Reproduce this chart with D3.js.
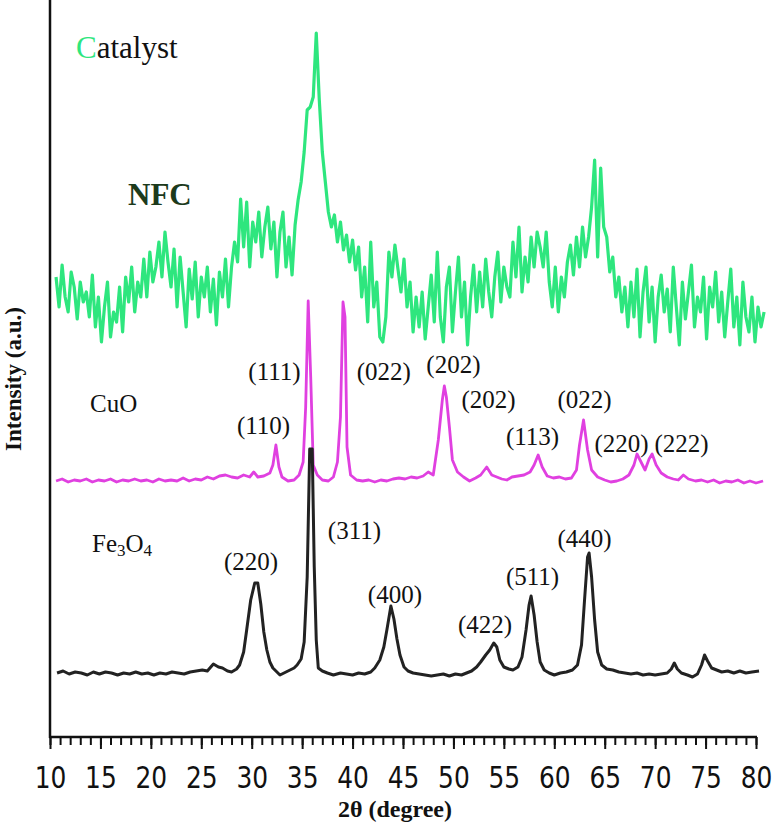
<!DOCTYPE html>
<html>
<head>
<meta charset="utf-8">
<script src="https://cdn.jsdelivr.net/npm/d3@7"></script>
<style>
  html, body { margin: 0; padding: 0; background: #fff; }
  svg { display: block; }
</style>
</head>
<body>
<svg id="chart" width="774" height="824"></svg>
<script>
// ---------------- DATA ----------------
const xTickMajor = [10, 15, 20, 25, 30, 35, 40, 45, 50, 55, 60, 65, 70, 75, 80];
const xTickMinor = d3.range(10, 81, 1);

// NFC catalyst: sampled every 0.3 deg starting at 10.6 deg
const nfcStart = 10.6, nfcStep = 0.3;
const nfcIntensity = [
  460, 430, 472, 440, 425, 465, 450, 418, 455, 435,
  445, 420, 462, 410, 440, 395, 430, 455, 400, 425,
  415, 450, 405, 460, 435, 470, 425, 455, 440, 478,
  440, 485, 455, 470, 495, 460, 505, 475, 450, 488,
  430, 480, 445, 410, 468, 438, 475, 420, 460, 440,
  470, 425, 458, 412, 465, 440, 478, 430, 470, 495,
  475, 538, 490, 535, 470, 515, 495, 525, 480, 510,
  530, 488, 515, 460, 505, 525, 470, 500, 462, 512,
  537, 555, 585, 627, 630, 640, 704, 637, 585, 555,
  525, 510, 522, 495, 515, 487, 502, 475, 497, 467,
  490, 440, 470, 415, 495, 430, 455, 400, 395, 420,
  485, 460, 492, 468, 445, 478, 430, 455, 405, 440,
  410, 445, 398, 430, 462, 415, 485, 420, 395, 450,
  470, 405, 445, 480, 420, 455, 392, 440, 472, 425,
  465, 430, 478, 445, 420, 460, 485, 435, 470, 450,
  440, 495, 460, 510, 445, 480, 455, 500, 470, 505,
  490, 470, 505, 455, 430, 470, 425, 460, 440, 475,
  492, 462, 500, 470, 510, 480, 500, 530, 577, 480,
  569, 510, 500, 465, 480, 440, 460, 425, 450, 410,
  455, 420, 468, 400, 445, 470, 415, 450, 395, 440,
  462, 425, 448, 405, 470, 430, 392, 455, 418, 445,
  472, 410, 440, 425, 460, 398, 450, 430, 465, 415,
  445, 400, 435, 468, 410, 440, 392, 455, 420, 405,
  440, 395, 430, 410, 425
];

// CuO: [2theta, intensity]
const cuoPattern = [
  [10.6,256],[11.2,258],[11.8,255],[12.4,257],[13.0,256],[13.6,258],[14.2,255],[14.8,257],
  [15.4,256],[16.0,258],[16.6,255],[17.2,257],[17.8,256],[18.4,258],[19.0,256],[19.6,257],
  [20.2,255],[20.8,258],[21.4,256],[22.0,257],[22.6,256],[23.2,259],[23.8,256],[24.4,258],
  [25.0,257],[25.6,260],[26.2,258],[26.8,261],[27.4,262],[28.0,260],[28.6,259],[29.2,262],
  [29.8,260],[30.2,265],[30.6,260],[31.2,261],[31.8,264],[32.1,272],[32.4,292],[32.7,270],
  [33.0,260],[33.6,256],[34.2,257],[34.7,262],[35.1,275],[35.35,330],[35.6,436],[35.85,360],
  [36.1,272],[36.5,262],[37.0,257],[37.6,256],[38.1,260],[38.5,275],[38.8,320],[39.05,435],
  [39.25,420],[39.45,290],[39.8,262],[40.4,257],[41.0,256],[41.6,257],[42.2,255],[42.8,257],
  [43.4,256],[44.0,258],[44.6,259],[45.2,258],[45.8,260],[46.4,259],[47.0,261],[47.5,265],
  [48.0,262],[48.5,297],[48.9,337],[49.1,351],[49.3,340],[49.6,310],[49.9,277],[50.4,265],
  [51.0,260],[51.6,256],[52.2,259],[52.7,262],[53.3,270],[53.8,262],[54.3,260],[54.8,258],
  [55.3,257],[55.8,260],[56.4,261],[57.0,262],[57.6,265],[58.0,272],[58.4,282],[58.8,270],
  [59.3,261],[59.9,259],[60.5,260],[61.1,258],[61.7,259],[62.2,267],[62.5,292],[62.9,317],
  [63.3,287],[63.7,267],[64.3,260],[65.0,257],[65.6,255],[66.2,256],[66.8,258],[67.4,262],
  [67.9,272],[68.2,283],[68.6,275],[69.0,267],[69.4,278],[69.7,283],[70.1,272],[70.6,264],
  [71.2,260],[71.8,258],[72.3,257],[72.8,262],[73.3,258],[74.0,256],[74.6,257],[75.2,255],
  [75.8,257],[76.4,254],[77.0,256],[77.6,255],[78.2,257],[78.8,254],[79.4,256],[80.0,254],
  [80.7,256]
];

// Fe3O4: [2theta, intensity]
const fe3o4Pattern = [
  [10.7,64],[11.3,66],[11.9,63],[12.5,65],[13.1,64],[13.7,62],[14.3,65],[14.9,63],[15.5,65],
  [16.1,64],[16.7,62],[17.3,64],[17.9,63],[18.5,65],[19.1,63],[19.7,64],[20.3,62],[20.9,64],
  [21.5,63],[22.1,65],[22.7,64],[23.3,63],[23.9,65],[24.5,66],[25.1,67],[25.6,66],[26.2,73],
  [26.7,70],[27.1,69],[27.6,66],[28.0,65],[28.5,68],[28.8,72],[29.2,85],[29.5,107],[29.9,137],
  [30.3,154],[30.6,154],[30.9,133],[31.2,105],[31.5,87],[31.8,75],[32.1,69],[32.8,62],[33.4,65],
  [33.8,67],[34.2,69],[34.5,72],[34.9,78],[35.2,95],[35.5,160],[35.75,288],[36.0,288],[36.2,170],
  [36.4,97],[36.6,69],[37.0,66],[37.5,64],[38.1,62],[38.8,64],[39.4,63],[40.0,62],[40.6,64],
  [41.2,63],[41.8,65],[42.2,69],[42.7,77],[43.1,90],[43.4,107],[43.8,131],[44.1,118],[44.4,98],
  [44.7,82],[45.1,70],[45.5,66],[46.0,64],[46.6,63],[47.2,62],[47.8,61],[48.4,62],[49.0,63],
  [49.6,61],[50.2,63],[50.8,62],[51.3,64],[51.8,66],[52.3,70],[52.7,75],[53.2,82],[53.6,87],
  [54.0,94],[54.3,90],[54.6,77],[55.0,70],[55.5,68],[55.9,67],[56.4,70],[56.8,80],[57.2,107],
  [57.5,132],[57.7,141],[58.0,122],[58.3,95],[58.6,75],[59.0,67],[59.5,64],[60.0,62],[60.6,64],
  [61.2,65],[61.8,67],[62.3,72],[62.7,92],[63.0,137],[63.3,180],[63.45,184],[63.7,160],[64.0,117],
  [64.3,85],[64.7,72],[65.2,68],[65.8,67],[66.4,65],[67.0,64],[67.6,63],[68.2,64],[68.8,62],
  [69.4,63],[70.0,62],[70.6,63],[71.2,64],[71.6,68],[71.9,74],[72.2,68],[72.6,64],[73.2,62],
  [73.7,60],[74.2,63],[74.6,72],[74.9,82],[75.2,76],[75.6,69],[76.1,67],[76.6,65],[77.2,66],
  [77.8,64],[78.4,66],[79.0,64],[79.6,65],[80.3,66]
];

// Peak (hkl) labels: text, 2theta of label centre, intensity level of label baseline
const cuoLabelText  = ["(110)", "(111)", "(022)", "(202)", "(202)", "(113)", "(022)", "(220)", "(222)"];
const cuoLabelTheta = [31.17, 32.26, 43.1, 50.0, 53.48, 57.84, 63.0, 66.66, 72.61];
const cuoLabelLevel = [303, 357, 357, 364, 329, 292, 329, 285, 285];

const feLabelText  = ["(220)", "(311)", "(400)", "(422)", "(511)", "(440)"];
const feLabelTheta = [29.93, 40.19, 44.2, 53.13, 57.84, 63.0];
const feLabelLevel = [167, 198, 134, 104, 152, 190];

// ---------------- CHART ----------------
const axisY = 737, axisX = 50;
const svg = d3.select("#chart");

const x = d3.scaleLinear().domain([10, 80]).range([50, 756]);
const y = d3.scaleLinear().domain([0, 737]).range([737, 0]);

const COL_NFC = "#2ee67e", COL_CUO = "#e040e0", COL_FE = "#222222";
const serif = "'Liberation Serif', 'Times New Roman', serif";

const line = d3.line().x(d => x(d[0])).y(d => y(d[1]));

const nfcPoints = nfcIntensity.map((v, i) => [nfcStart + i * nfcStep, v]);

svg.append("path").datum(nfcPoints).attr("d", line)
  .attr("fill", "none").attr("stroke", COL_NFC).attr("stroke-width", 3.2)
  .attr("stroke-linejoin", "round");
svg.append("path").datum(cuoPattern).attr("d", line)
  .attr("fill", "none").attr("stroke", COL_CUO).attr("stroke-width", 2.8)
  .attr("stroke-linejoin", "round");
svg.append("path").datum(fe3o4Pattern).attr("d", line)
  .attr("fill", "none").attr("stroke", COL_FE).attr("stroke-width", 3)
  .attr("stroke-linejoin", "round");

// Axes
const gx = svg.append("g").attr("transform", `translate(0,${axisY})`);
gx.call(d3.axisBottom(x).tickValues(xTickMinor).tickSize(8).tickSizeOuter(0).tickFormat(""));
gx.selectAll(".tick line").attr("stroke", "#111").attr("stroke-width", 2);
gx.select(".domain").remove();

const gxMaj = svg.append("g").attr("transform", `translate(0,${axisY})`);
gxMaj.call(d3.axisBottom(x).tickValues(xTickMajor).tickSize(12).tickSizeOuter(0).tickFormat(d3.format("d")));
gxMaj.select(".domain").remove();
gxMaj.selectAll(".tick line").attr("stroke", "#111").attr("stroke-width", 2);
gxMaj.selectAll(".tick text")
  .attr("y", 51).attr("dy", 0)
  .attr("transform", "scale(0.83,1)")
  .attr("fill", "#111")
  .style("font-family", "'DejaVu Sans', Verdana, sans-serif")
  .style("font-size", "30px");

// axis lines
svg.append("line").attr("x1", axisX - 1).attr("x2", 757).attr("y1", axisY).attr("y2", axisY)
  .attr("stroke", "#111").attr("stroke-width", 2.5);
svg.append("line").attr("x1", axisX).attr("x2", axisX).attr("y1", 0).attr("y2", axisY + 1)
  .attr("stroke", "#111").attr("stroke-width", 2.5);

// axis titles
svg.append("text").attr("x", 395).attr("y", 817).attr("text-anchor", "middle")
  .style("font-family", serif).style("font-weight", "bold").style("font-size", "24px")
  .attr("fill", "#111").text("2θ (degree)");
svg.append("text").attr("transform", "translate(21,379) rotate(-90)").attr("text-anchor", "middle")
  .style("font-family", serif).style("font-weight", "bold").style("font-size", "23px")
  .attr("fill", "#111").text("Intensity (a.u.)");

// Title "Catalyst"
const t1 = svg.append("text").attr("x", 76).attr("y", 58)
  .style("font-family", serif).style("font-size", "31px").attr("fill", "#111");
t1.append("tspan").attr("fill", COL_NFC).text("C");
t1.append("tspan").text("atalyst");

// Series labels
svg.append("text").attr("x", 128).attr("y", 205)
  .style("font-family", serif).style("font-weight", "bold").style("font-size", "31px")
  .attr("fill", "#1c3a1c").text("NFC");
svg.append("text").attr("x", 90).attr("y", 412)
  .style("font-family", serif).style("font-size", "25px").attr("fill", "#111").text("CuO");
const fe = svg.append("text").attr("x", 92).attr("y", 552)
  .style("font-family", serif).style("font-size", "25px").attr("fill", "#111");
fe.append("tspan").text("Fe");
fe.append("tspan").attr("dy", 4).style("font-size", "17px").text("3");
fe.append("tspan").attr("dy", -4).text("O");
fe.append("tspan").attr("dy", 4).style("font-size", "17px").text("4");

// Peak labels
function peakLabels(texts, thetas, levels) {
  svg.append("g").selectAll("text").data(texts).join("text")
    .attr("x", (d, i) => x(thetas[i]))
    .attr("y", (d, i) => y(levels[i]))
    .attr("text-anchor", "middle")
    .style("font-family", serif).style("font-size", "25px").attr("fill", "#111")
    .text(d => d);
}
peakLabels(cuoLabelText, cuoLabelTheta, cuoLabelLevel);
peakLabels(feLabelText, feLabelTheta, feLabelLevel);
</script>
</body>
</html>
